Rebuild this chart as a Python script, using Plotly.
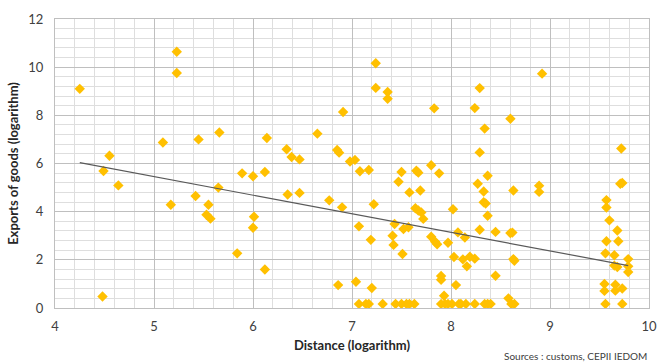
import plotly.graph_objects as go
import numpy as np

# Distance (log) and exports (log)
dist = [4.25, 4.49, 4.55, 4.64, 4.48, 5.09, 5.23, 5.23, 5.17, 5.45, 5.66, 5.42, 5.55, 5.53, 5.57, 5.65,
        5.84, 5.89, 6.00, 6.01, 6.00, 6.12, 6.12, 6.14, 6.34, 6.39, 6.47, 6.35, 6.47, 6.65, 6.77, 6.91,
        6.85, 6.87, 6.98, 7.03, 6.90, 6.86, 7.04, 7.20, 7.08, 7.17, 7.24, 7.24, 7.36, 7.36, 7.83, 7.50,
        7.65, 7.67, 7.80, 7.88, 7.47, 7.58, 7.69, 7.22, 7.64, 7.67, 7.70, 7.72, 7.07, 7.19, 7.43, 7.52,
        7.57, 7.41, 7.42, 7.51, 7.80, 7.84, 7.86,
        7.07, 7.14, 7.17, 7.31, 7.44, 7.50, 7.55, 7.58, 7.63, 7.90, 7.94, 7.97, 8.01, 8.08, 8.10, 8.15,
        8.24, 8.34, 8.37, 8.40, 8.61, 8.64, 9.56, 9.73,
        7.90, 7.90, 7.93, 8.05, 8.58,
        8.92, 8.29, 8.24, 8.60, 8.34, 8.29, 8.37, 8.27, 8.33, 8.33, 8.35, 8.63, 8.89, 8.89, 8.02, 8.37,
        8.29, 8.45, 8.07, 8.14, 8.60, 8.62, 7.97, 8.03, 8.12, 8.19, 8.24, 8.16, 8.63, 8.64, 8.45,
        9.72, 9.71, 9.73, 9.57, 9.57, 9.60, 9.68, 9.57, 9.69, 9.56, 9.65, 9.79, 9.65, 9.68, 9.79, 9.79,
        9.55, 9.66, 9.55, 9.66, 9.73]
exports = [9.10, 5.69, 6.32, 5.09, 0.48, 6.87, 10.64, 9.76, 4.29, 7.00, 7.29, 4.65, 4.29, 3.87, 3.71, 5.00,
           2.27, 5.59, 5.47, 3.79, 3.33, 5.65, 1.60, 7.06, 6.59, 6.27, 6.17, 4.71, 4.78, 7.24, 4.47, 8.14,
           6.56, 6.45, 6.08, 6.15, 4.18, 0.95, 1.09, 0.83, 5.68, 5.73, 10.16, 9.14, 8.97, 8.69, 8.29, 5.65,
           5.70, 5.62, 5.93, 5.59, 5.24, 4.80, 4.88, 4.31, 4.14, 4.05, 3.97, 3.70, 3.39, 2.83, 3.49, 3.28,
           3.35, 3.00, 2.62, 2.24, 2.96, 2.75, 2.65,
           0.17, 0.17, 0.17, 0.17, 0.17, 0.17, 0.17, 0.17, 0.17, 0.17, 0.17, 0.17, 0.17, 0.17, 0.17, 0.17,
           0.17, 0.17, 0.17, 0.17, 0.17, 0.17, 0.17, 0.17,
           1.33, 1.17, 0.51, 0.95, 0.40,
           9.73, 9.13, 8.30, 7.86, 7.45, 6.46, 5.49, 5.16, 4.84, 4.39, 4.34, 4.88, 5.08, 4.82, 4.10, 3.83,
           3.25, 3.16, 3.14, 2.93, 3.11, 3.13, 2.71, 2.12, 2.02, 2.13, 2.05, 1.73, 2.03, 1.96, 1.34,
           6.62, 5.16, 5.19, 4.48, 4.17, 3.64, 3.22, 2.77, 2.77, 2.27, 2.19, 2.03, 1.76, 1.70, 1.73, 1.49,
           1.00, 0.97, 0.71, 0.72, 0.81]

# Linear trend
trend_intercept = 9.31
trend_slope = -0.771

x_ticks = [4, 5, 6, 7, 8, 9, 10]
y_ticks = [0, 2, 4, 6, 8, 10, 12]

tx = np.array([min(dist), max(dist)])
ty = trend_intercept + trend_slope * tx

fig = go.Figure()
fig.add_trace(go.Scatter(x=dist, y=exports, mode="markers",
                         marker=dict(symbol="diamond", size=8, color="#FFC000", line=dict(width=0)),
                         showlegend=False, hoverinfo="x+y"))
fig.add_trace(go.Scatter(x=tx, y=ty, mode="lines", line=dict(color="#595959", width=1.2),
                         showlegend=False))

font_family = "Lato, 'Open Sans', sans-serif"
fig.update_layout(
    width=666, height=363,
    margin=dict(l=55, r=9, t=19, b=55),
    paper_bgcolor="white", plot_bgcolor="white",
    font=dict(family=font_family, size=13, color="#404040"),
    xaxis=dict(range=[4, 10], tickvals=x_ticks, showgrid=True, gridcolor="#bfbfbf", gridwidth=1,
               minor=dict(dtick=0.2, showgrid=True, gridcolor="#dedede", gridwidth=1),
               zeroline=False, showline=True, linecolor="#bfbfbf", mirror=True,
               ticklabelstandoff=6,
               title=dict(text="<b>Distance (logarithm)</b>", font=dict(size=13, color="#262626"),
                          standoff=8)),
    yaxis=dict(range=[0, 12], tickvals=y_ticks, showgrid=True, gridcolor="#bfbfbf", gridwidth=1,
               minor=dict(dtick=0.4, showgrid=True, gridcolor="#dedede", gridwidth=1),
               zeroline=False, showline=True, linecolor="#bfbfbf", mirror=True,
               ticklabelstandoff=8,
               title=dict(text="<b>Exports of goods (logarithm)</b>", font=dict(size=13, color="#262626"),
                          standoff=6)),
    annotations=[dict(text="Sources : customs, CEPII IEDOM", xref="paper", yref="paper",
                      x=1.0, y=-0.14, xanchor="right", yanchor="top", showarrow=False,
                      font=dict(size=10, color="#404040"))],
)

fig.write_html("out.html", config={"displayModeBar": False},
               post_script="document.body.style.margin='0';")
